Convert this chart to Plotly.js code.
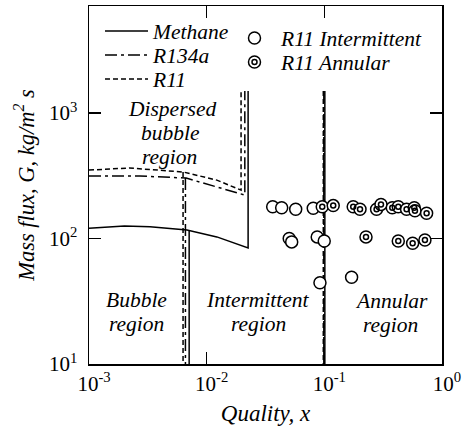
<!DOCTYPE html>
<html>
<head>
<meta charset="utf-8">
<script src="https://cdn.plot.ly/plotly-3.0.1.min.js"></script>
<style>html,body{margin:0;padding:0;background:#fff;}#chart{width:463px;height:427px;}</style>
</head>
<body>
<div id="chart"></div>
<script>
// ---- data ----
// transition curves (quality x, mass flux G)
const methaneX = [0.001, 0.002, 0.0033, 0.0068, 0.0122, 0.0225];
const methaneG = [121, 126, 124, 117, 103, 84];
const r134aX = [0.001, 0.0027, 0.0067, 0.0122, 0.0211];
const r134aG = [315, 315, 303, 257, 222];
const r11X = [0.001, 0.0022, 0.0063, 0.0122, 0.0196];
const r11G = [351, 365, 339, 292, 243];
// vertical transition boundaries
const methaneBubbleX = 0.0071, methaneBubbleG = 116, methaneAnnularX = 0.101;
const r134aBubbleX = 0.0066, r134aBubbleG = 303, r134aAnnularX = 0.099;
const r11BubbleX = 0.0063, r11BubbleG = 339, r11AnnularX = 0.098;
const boundaryTopG = 1500;
const boundaryBottomG = 10;
// R11 experimental points
const intermittentX = [0.0364, 0.0434, 0.0571, 0.0805, 0.0503, 0.0528, 0.0870, 0.0998, 0.0918, 0.1705];
const intermittentG = [179, 176, 171, 174, 100, 94, 103, 95.5, 44.4, 49.1];
const annularX = [0.096, 0.119, 0.176, 0.201, 0.278, 0.303, 0.378, 0.425, 0.500, 0.581, 0.589, 0.740, 0.226, 0.425, 0.563, 0.716];
const annularG = [179, 183, 179, 171, 171, 187, 176, 179, 171, 176, 166.5, 159, 103, 95.5, 91.6, 97.3];
// ticks
const xTickVals = [0.001, 0.01, 0.1, 1];
const xTickText = ['10<sup>-3</sup>', '10<sup>-2</sup>', '10<sup>-1</sup>', '10<sup>0</sup>'];
const yTickVals = [10, 100, 1000];
const yTickText = ['10<sup>1</sup>', '10<sup>2</sup>', '10<sup>3</sup>'];

// ---- build ----
function boundaryPath(cx, cg, bubX, bubG, annX) {
  const endX = cx[cx.length - 1];
  return {
    x: cx.concat([endX, null, bubX, bubX, null, annX, annX]),
    y: cg.concat([boundaryTopG, null, bubG, boundaryBottomG, null, boundaryTopG, boundaryBottomG])
  };
}
const FONT = 'Liberation Serif';
const mP = boundaryPath(methaneX, methaneG, methaneBubbleX, methaneBubbleG, methaneAnnularX);
const aP = boundaryPath(r134aX, r134aG, r134aBubbleX, r134aBubbleG, r134aAnnularX);
const rP = boundaryPath(r11X, r11G, r11BubbleX, r11BubbleG, r11AnnularX);

const traces = [
  {x: mP.x, y: mP.y, name: 'Methane', mode: 'lines', line: {color: '#000', width: 1.5}, legend: 'legend', connectgaps: false},
  {x: aP.x, y: aP.y, name: 'R134a', mode: 'lines', line: {color: '#000', width: 1.5, dash: '12px,4px,3px,4px'}, legend: 'legend2', connectgaps: false},
  {x: rP.x, y: rP.y, name: 'R11', mode: 'lines', line: {color: '#000', width: 1.5, dash: '5px,3px'}, legend: 'legend3', connectgaps: false},
  {x: intermittentX, y: intermittentG, name: 'R11 Intermittent', mode: 'markers',
   marker: {symbol: 'circle', size: 12, color: '#fff', line: {color: '#000', width: 1.5}}, legend: 'legend4'},
  {x: annularX, y: annularG, name: 'R11 Annular', mode: 'markers',
   marker: {symbol: 'circle', size: 12, color: '#fff', line: {color: '#000', width: 1.5}}, legend: 'legend5'},
  {x: annularX, y: annularG, name: ' ', mode: 'markers',
   marker: {symbol: 'circle-open', size: 5, color: '#000', line: {color: '#000', width: 1.5}}, legend: 'legend6'}
];

// plot area: x 89..442, y 6..364
function px2paperX(px) { return (px - 89) / 353; }
function py2paperY(py) { return (364 - py) / 358; }
const TXT = 21.5;
function leg(px, py) {
  return {x: px2paperX(px), y: py2paperY(py), xanchor: 'left', yanchor: 'middle',
    bgcolor: 'rgba(0,0,0,0)', borderwidth: 0, itemwidth: 43,
    font: {family: FONT, size: TXT, style: 'italic', color: '#000'}};
}
function ann(text, px, py) {
  return {text: text, x: px2paperX(px), y: py2paperY(py), xref: 'paper', yref: 'paper',
    showarrow: false, xanchor: 'center', yanchor: 'middle',
    font: {family: FONT, size: TXT, style: 'italic', color: '#000'}};
}

const axisCommon = {
  type: 'log', showgrid: false, zeroline: false, showline: true, linecolor: '#000', linewidth: 1.5,
  mirror: 'ticks', ticks: 'inside', ticklen: 12, tickwidth: 1.5, tickcolor: '#000',
  tickfont: {family: FONT, size: 21, color: '#000'}, tickmode: 'array'
};

const layout = {
  width: 463, height: 427,
  margin: {l: 89, r: 21, t: 6, b: 63},
  paper_bgcolor: '#fff', plot_bgcolor: '#fff',
  font: {family: FONT, color: '#000'},
  showlegend: true,
  xaxis: Object.assign({}, axisCommon, {
    range: [-3, 0], tickvals: xTickVals, ticktext: xTickText, ticklabelshift: 5,
    title: {text: 'Quality, x', font: {family: FONT, size: 23, style: 'italic', color: '#000'}, standoff: 10}
  }),
  yaxis: Object.assign({}, axisCommon, {
    range: [1, 3.853], tickvals: yTickVals, ticktext: yTickText, ticklabelstandoff: 6,
    title: {text: 'Mass flux, G, kg/m<sup>2</sup> s', font: {family: FONT, size: 22.5, style: 'italic', color: '#000'}, standoff: 8}
  }),
  legend: leg(100, 31),
  legend2: leg(100, 55),
  legend3: leg(100, 79),
  legend4: leg(228, 38),
  legend5: leg(228, 62),
  legend6: leg(228, 62),
  annotations: [
    ann('Dispersed', 172, 109),
    ann('bubble', 170, 133),
    ann('region', 169, 157),
    ann('Bubble', 136, 300),
    ann('region', 136, 324),
    ann('Intermittent', 258, 300),
    ann('region', 258, 324),
    ann('Annular', 391, 301),
    ann('region', 390, 325)
  ]
};

Plotly.newPlot('chart', traces, layout, {displayModeBar: false, staticPlot: true});
</script>
</body>
</html>
